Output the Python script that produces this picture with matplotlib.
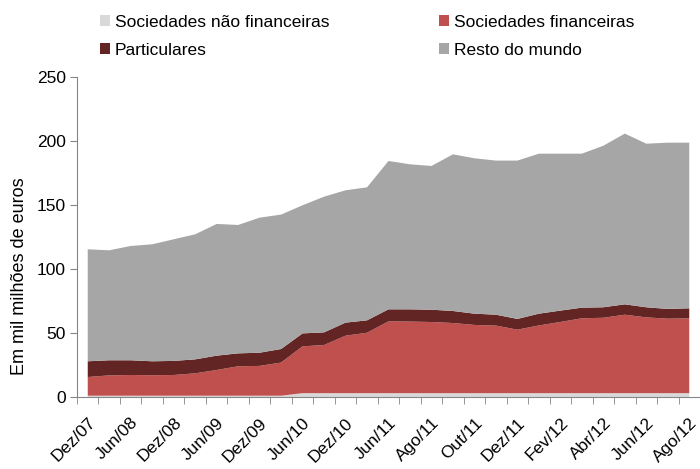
import matplotlib
matplotlib.use("Agg")
import matplotlib.pyplot as plt
import numpy as np
from matplotlib.patches import Patch

plt.rcParams['font.family'] = ['Liberation Sans', 'DejaVu Sans']

periods = ["Dez/07", "Mar/08", "Jun/08", "Set/08", "Dez/08", "Mar/09", "Jun/09", "Set/09",
           "Dez/09", "Mar/10", "Jun/10", "Set/10", "Dez/10", "Mar/11", "Jun/11", "Jul/11",
           "Ago/11", "Set/11", "Out/11", "Nov/11", "Dez/11", "Jan/12", "Fev/12", "Mar/12",
           "Abr/12", "Mai/12", "Jun/12", "Jul/12", "Ago/12"]

nao_financeiras = [1.0, 1.0, 1.0, 1.0, 1.0, 1.0, 1.0, 1.0, 1.0, 1.0, 3.0, 3.0, 3.0, 3.0, 3.0,
                   3.0, 3.0, 3.0, 3.0, 3.0, 3.0, 3.0, 3.0, 3.0, 3.0, 3.0, 3.0, 3.0, 3.0]
financeiras = [14.6, 15.9, 16.2, 16.0, 16.2, 17.5, 20.1, 23.0, 23.3, 25.9, 36.6, 37.6, 44.9, 47.2,
               56.1, 55.9, 55.6, 54.8, 53.3, 52.8, 49.6, 52.9, 55.6, 58.5, 58.9, 61.3, 59.2, 58.2, 58.5]
particulares = [12.3, 11.8, 11.5, 10.9, 11.0, 10.9, 11.2, 10.1, 10.3, 10.6, 10.1, 9.9, 10.2, 9.7,
                9.4, 9.6, 9.6, 9.4, 8.8, 8.5, 8.4, 9.2, 8.9, 8.3, 8.2, 8.1, 7.9, 7.6, 7.8]
resto_mundo = [87.5, 85.9, 89.3, 91.4, 95.0, 97.7, 102.9, 100.3, 105.5, 105.0, 100.1, 106.0, 103.4,
               103.9, 115.9, 113.3, 112.3, 122.4, 121.4, 120.4, 123.7, 125.0, 122.6, 120.3, 126.2,
               133.4, 127.8, 129.9, 129.4]

labels = ["Sociedades não financeiras", "Sociedades financeiras", "Particulares", "Resto do mundo"]
colors = ["#D9D9D9", "#C0504D", "#632523", "#A6A6A6"]

W, H = 700, 469
fig = plt.figure(figsize=(W / 100, H / 100), dpi=100)
ax_left, ax_right, ax_top, ax_bottom = 77, 700, 77, 397
ax = fig.add_axes([ax_left / W, 1 - ax_bottom / H, (ax_right - ax_left) / W, (ax_bottom - ax_top) / H])

x = np.arange(len(periods))
ax.stackplot(x, nao_financeiras, financeiras, particulares, resto_mundo,
             colors=colors, linewidth=0)

ax.set_xlim(-0.5, len(periods) - 0.5)
ax.set_ylim(0, 250)
ax.set_yticks([0, 50, 100, 150, 200, 250])
ax.tick_params(axis='y', labelsize=12.5, length=5, color='#868686', direction='out', pad=3)

ax.set_xticks(np.arange(-0.5, len(periods), 1.0), minor=True)
ax.set_xticks(x[::2])
ax.set_xticklabels(periods[::2], rotation=45, ha='right', rotation_mode='anchor', fontsize=12.5)
ax.tick_params(axis='x', which='major', length=0, pad=13)
ax.tick_params(axis='x', which='minor', length=5, color='#868686', direction='out')

for s in ['top', 'right']:
    ax.spines[s].set_visible(False)
for s in ['left', 'bottom']:
    ax.spines[s].set_color('#868686')
    ax.spines[s].set_linewidth(0.8)

ax.set_ylabel("Em mil milhões de euros", fontsize=13)
ax.yaxis.set_label_coords((28 - ax_left) / (ax_right - ax_left), (ax_bottom - 276) / (ax_bottom - ax_top))

order = [0, 2, 1, 3]
handles = [Patch(facecolor=colors[i], edgecolor='none') for i in order]
fig.legend(handles, [labels[i] for i in order], ncol=2, loc='upper left',
           bbox_to_anchor=(100 / W, 1 - 15 / H), frameon=False, fontsize=12.5,
           handlelength=0.58, handleheight=0.58, handletextpad=0.29,
           columnspacing=6.3, labelspacing=0.74, borderaxespad=0, borderpad=0)

fig.savefig("out.png", dpi=100)
